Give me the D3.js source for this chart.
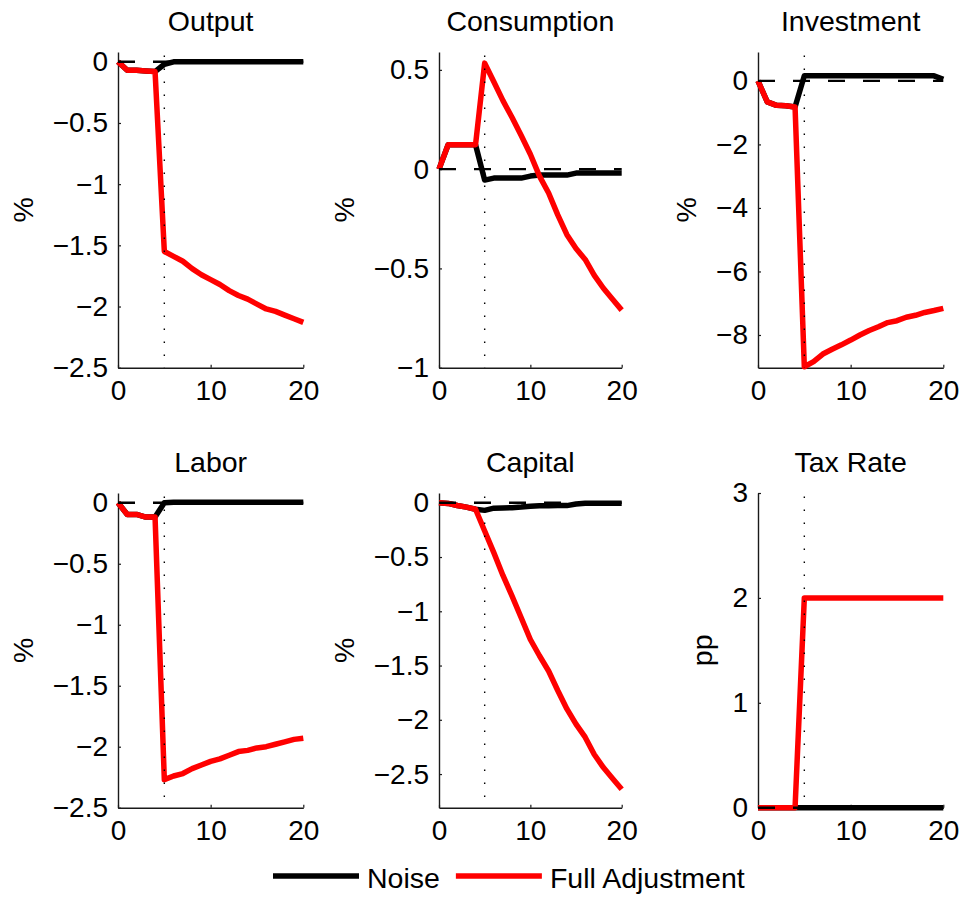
<!DOCTYPE html>
<html>
<head>
<meta charset="utf-8">
<script src="https://cdn.jsdelivr.net/npm/d3@7"></script>
<style>
  html, body { margin: 0; padding: 0; background: #fff; }
  svg { display: block; font-family: "Liberation Sans", Arial, Helvetica, sans-serif; }
</style>
</head>
<body>
<svg id="chart" width="966" height="898"></svg>
<script>
// Impulse responses over 20 quarters: noise shock vs. full adjustment to a tax increase.
const periods = [0, 1, 2, 3, 4, 5, 6, 7, 8, 9, 10, 11, 12, 13, 14, 15, 16, 17, 18, 19, 20];

const seriesNames = ["Noise", "Full Adjustment"];
const seriesColors = ["#000000", "#ff0000"];

const noiseOutput = [0, -0.07, -0.07, -0.075, -0.08, -0.02, 0, 0, 0, 0, 0, 0, 0, 0, 0, 0, 0, 0, 0, 0, 0];
const fullOutput = [0, -0.07, -0.07, -0.075, -0.08, -1.55, -1.59, -1.63, -1.69, -1.74, -1.78, -1.82, -1.87, -1.91, -1.94, -1.98, -2.02, -2.04, -2.07, -2.10, -2.13];

const noiseConsumption = [0, 0.123, 0.123, 0.123, 0.123, -0.055, -0.045, -0.045, -0.045, -0.045, -0.035, -0.03, -0.03, -0.03, -0.03, -0.02, -0.02, -0.02, -0.02, -0.02, -0.02];
const fullConsumption = [0, 0.123, 0.123, 0.123, 0.123, 0.534, 0.44, 0.345, 0.26, 0.17, 0.075, -0.035, -0.12, -0.23, -0.33, -0.40, -0.455, -0.535, -0.60, -0.655, -0.71];

const noiseInvestment = [0, -0.66, -0.77, -0.78, -0.82, 0.16, 0.16, 0.16, 0.16, 0.16, 0.16, 0.16, 0.16, 0.16, 0.16, 0.16, 0.16, 0.16, 0.16, 0.16, 0.05];
const fullInvestment = [0, -0.66, -0.77, -0.78, -0.82, -9.0, -8.84, -8.6, -8.45, -8.31, -8.16, -8.0, -7.86, -7.74, -7.61, -7.55, -7.44, -7.38, -7.29, -7.23, -7.16];

const noiseLabor = [0, -0.096, -0.096, -0.117, -0.117, 0, 0.005, 0.005, 0.005, 0.005, 0.005, 0.005, 0.005, 0.005, 0.005, 0.005, 0.005, 0.005, 0.005, 0.005, 0.005];
const fullLabor = [0, -0.096, -0.096, -0.117, -0.117, -2.27, -2.24, -2.22, -2.18, -2.15, -2.12, -2.10, -2.07, -2.04, -2.03, -2.01, -2.0, -1.98, -1.96, -1.94, -1.93];

const noiseCapital = [0, -0.006, -0.025, -0.04, -0.06, -0.07, -0.05, -0.048, -0.045, -0.04, -0.032, -0.028, -0.028, -0.026, -0.026, -0.012, -0.005, -0.005, -0.005, -0.005, -0.005];
const fullCapital = [0, -0.006, -0.025, -0.04, -0.06, -0.26, -0.46, -0.67, -0.86, -1.06, -1.26, -1.41, -1.55, -1.73, -1.90, -2.04, -2.16, -2.32, -2.44, -2.54, -2.64];

const noiseTax = [0, 0, 0, 0, 0, 0, 0, 0, 0, 0, 0, 0, 0, 0, 0, 0, 0, 0, 0, 0, 0];
const fullTax = [0, 0, 0, 0, 0, 2, 2, 2, 2, 2, 2, 2, 2, 2, 2, 2, 2, 2, 2, 2, 2];

// Axis limits and tick values
const xLimits = [0, 20];
const xTicks = [0, 10, 20];
const shockPeriod = 5;

const outputLimits = [-2.5, 0.08];
const outputTicks = [0, -0.5, -1, -1.5, -2, -2.5];
const consumptionLimits = [-1, 0.59];
const consumptionTicks = [0.5, 0, -0.5, -1];
const investmentLimits = [-9.03, 0.91];
const investmentTicks = [0, -2, -4, -6, -8];
const laborLimits = [-2.5, 0.08];
const laborTicks = [0, -0.5, -1, -1.5, -2, -2.5];
const capitalLimits = [-2.81, 0.09];
const capitalTicks = [0, -0.5, -1, -1.5, -2, -2.5];
const taxLimits = [0, 3];
const taxTicks = [0, 1, 2, 3];

const panels = [
  { title: "Output", unit: "%", noise: noiseOutput, full: fullOutput, limits: outputLimits, ticks: outputTicks },
  { title: "Consumption", unit: "%", noise: noiseConsumption, full: fullConsumption, limits: consumptionLimits, ticks: consumptionTicks },
  { title: "Investment", unit: "%", noise: noiseInvestment, full: fullInvestment, limits: investmentLimits, ticks: investmentTicks },
  { title: "Labor", unit: "%", noise: noiseLabor, full: fullLabor, limits: laborLimits, ticks: laborTicks },
  { title: "Capital", unit: "%", noise: noiseCapital, full: fullCapital, limits: capitalLimits, ticks: capitalTicks },
  { title: "Tax Rate", unit: "pp", noise: noiseTax, full: fullTax, limits: taxLimits, ticks: taxTicks }
];

// Subplot grid (pixel frames)
const columns = [[118, 303.3], [439, 621.7], [758, 943.3]];
const rows = [[52, 367.7], [493, 807.7]];

const svg = d3.select("#chart");
const fmt = d3.format("~g");
const lineW = 5.5;
const tickFont = 28;
const labelFont = 28.5;

panels.forEach((p, i) => {
  const [xl, xr] = columns[i % 3];
  const [yt, yb] = rows[Math.floor(i / 3)];
  const x = d3.scaleLinear().domain(xLimits).range([xl, xr]);
  const y = d3.scaleLinear().domain(p.limits).range([yb, yt]);
  const g = svg.append("g");

  // axes (box off, ticks pointing inward)
  const yAxis = g.append("g")
    .attr("transform", `translate(${xl},0)`)
    .call(d3.axisLeft(y).tickValues(p.ticks).tickFormat(fmt).tickSize(-3).tickSizeOuter(0).tickPadding(10));
  const xAxis = g.append("g")
    .attr("transform", `translate(0,${yb})`)
    .call(d3.axisBottom(x).tickValues(xTicks).tickFormat(fmt).tickSize(-3).tickSizeOuter(0).tickPadding(12));
  [yAxis, xAxis].forEach(a => {
    a.select(".domain").attr("stroke", "#1a1a1a").attr("stroke-width", 1.4);
    a.selectAll(".tick line").attr("stroke", "#1a1a1a").attr("stroke-width", 1.2);
    a.selectAll(".tick text").attr("fill", "#000").attr("font-size", tickFont)
      .attr("font-family", "Liberation Sans, Arial, sans-serif");
  });

  // series
  const line = d3.line().x((d, k) => x(periods[k])).y(d => y(d));
  [p.noise, p.full].forEach((vals, s) => {
    g.append("path")
      .datum(vals)
      .attr("d", line)
      .attr("fill", "none")
      .attr("stroke", seriesColors[s])
      .attr("stroke-width", lineW)
      .attr("stroke-linejoin", "round");
  });

  // dotted marker at the shock period
  g.append("line")
    .attr("x1", x(shockPeriod)).attr("x2", x(shockPeriod))
    .attr("y1", yt).attr("y2", yb)
    .attr("stroke", "#000").attr("stroke-width", 1.4)
    .attr("stroke-dasharray", "1.4,11.6").attr("stroke-dashoffset", -3.5);

  // dashed zero line
  g.append("line")
    .attr("x1", x(xLimits[0])).attr("x2", x(xLimits[1]))
    .attr("y1", y(0)).attr("y2", y(0))
    .attr("stroke", "#000").attr("stroke-width", 2.4)
    .attr("stroke-dasharray", "17,18");

  // title
  g.append("text")
    .attr("x", (xl + xr) / 2).attr("y", yt - 21)
    .attr("text-anchor", "middle").attr("font-size", labelFont).attr("fill", "#000")
    .text(p.title);

  // y label placed left of the widest tick label
  let minX = Infinity;
  yAxis.selectAll(".tick text").each(function () {
    const b = this.getBBox();
    const m = this.getCTM();
    minX = Math.min(minX, b.x + m.e);
  });
  const lx = minX - 20;
  g.append("text")
    .attr("transform", `translate(${lx},${(yt + yb) / 2}) rotate(-90)`)
    .attr("text-anchor", "middle").attr("font-size", labelFont).attr("fill", "#000")
    .text(p.unit);
});

// legend
const legend = svg.append("g");
let lx = 273;
const ly = 876;
seriesNames.forEach((name, s) => {
  legend.append("line")
    .attr("x1", lx).attr("x2", lx + 86).attr("y1", ly).attr("y2", ly)
    .attr("stroke", seriesColors[s]).attr("stroke-width", lineW);
  const t = legend.append("text")
    .attr("x", lx + 94).attr("y", ly + 12)
    .attr("font-size", labelFont).attr("fill", "#000")
    .text(name);
  lx = lx + 94 + t.node().getComputedTextLength() + 16;
});
</script>
</body>
</html>
